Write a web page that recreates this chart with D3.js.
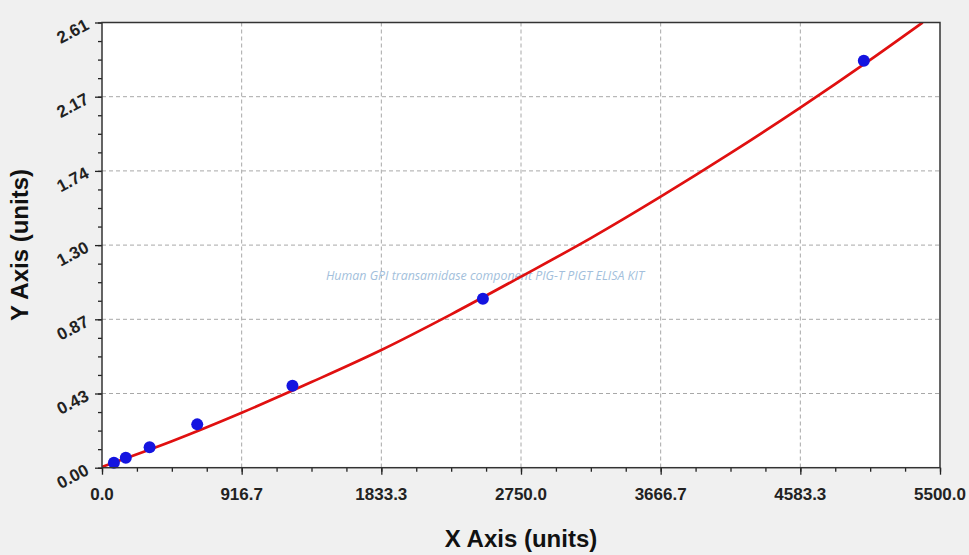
<!doctype html>
<html>
<head>
<script src="https://d3js.org/d3.v7.min.js"></script>
<style>
body { margin: 0; background: #f0f0f0; }
svg { display: block; font-family: Arial, "Liberation Sans", sans-serif; }
.grid line { stroke: #a8a8a8; stroke-dasharray: 4,3; stroke-width: 1; }
.tick-label { font-weight: bold; font-size: 17px; fill: #222; }
.axis-title { font-weight: bold; font-size: 24px; fill: #111; }
</style>
</head>
<body>
<svg width="969" height="555" id="chart"></svg>

<script type="text/javascript">
// standards (concentration / OD)
var conc = [78.125, 156.25, 312.5, 625, 1250, 2500, 5000];
var od = [0.029, 0.059, 0.12, 0.254, 0.48, 0.99, 2.386];

// fitted curve
var curveX = [0, 458.3, 916.7, 1375, 1833.3, 2291.7, 2750, 3208.3, 3666.7, 4125, 4583.3, 5041.7, 5386];
var curveY = [0.005, 0.155, 0.322, 0.502, 0.69, 0.899, 1.12, 1.346, 1.589, 1.844, 2.111, 2.391, 2.61];

var xTicks = [0, 916.7, 1833.3, 2750.0, 3666.7, 4583.3, 5500.0];
var yTicks = [0, 0.435, 0.87, 1.305, 1.74, 2.175, 2.61];
var yTickLabels = ["0.00", "0.43", "0.87", "1.30", "1.74", "2.17", "2.61"];

var title = "Human GPI transamidase component PIG-T PIGT ELISA KIT";

var svg = d3.select("#chart");
var pLeft = 102, pRight = 940, pTop = 22.5, pBottom = 467.7;

var x = d3.scaleLinear().domain([0, 5500]).range([pLeft, pRight]);
var y = d3.scaleLinear().domain([0, 2.61]).range([pBottom, pTop]);

// plot background
svg.append("rect")
  .attr("x", pLeft).attr("y", pTop)
  .attr("width", pRight - pLeft).attr("height", pBottom - pTop)
  .attr("fill", "#fff");

// grid
var grid = svg.append("g").attr("class", "grid");
grid.selectAll(".gx").data(xTicks.slice(1, -1)).enter().append("line")
  .attr("x1", function(d) { return x(d); }).attr("x2", function(d) { return x(d); })
  .attr("y1", pTop).attr("y2", pBottom);
grid.selectAll(".gy").data(yTicks.slice(1, -1)).enter().append("line")
  .attr("x1", pLeft).attr("x2", pRight)
  .attr("y1", function(d) { return y(d); }).attr("y2", function(d) { return y(d); });

// minor ticks
var xMinor = d3.range(0, 5500.1, 5500 / 24);
var yMinor = d3.range(0, 2.6101, 2.61 / 24);

var xAxis = svg.append("g").attr("transform", "translate(0," + pBottom + ")");
xAxis.append("g").call(d3.axisBottom(x).tickValues(xMinor).tickSize(4).tickFormat(""));
xAxis.append("g").call(d3.axisBottom(x).tickValues(xTicks).tickSize(7).tickFormat(""));
xAxis.selectAll("path").remove();
xAxis.selectAll("line").attr("stroke", "#222").attr("stroke-width", 1.3);

var yAxis = svg.append("g").attr("transform", "translate(" + pLeft + ",0)");
yAxis.append("g").call(d3.axisLeft(y).tickValues(yMinor).tickSize(4).tickFormat(""));
yAxis.append("g").call(d3.axisLeft(y).tickValues(yTicks).tickSize(7).tickFormat(""));
yAxis.selectAll("path").remove();
yAxis.selectAll("line").attr("stroke", "#222").attr("stroke-width", 1.3);

// x tick labels
svg.selectAll(".xl").data(xTicks).enter().append("text")
  .attr("class", "tick-label")
  .attr("x", function(d) { return x(d); })
  .attr("y", pBottom + 32)
  .attr("text-anchor", "middle")
  .text(function(d) { return d.toFixed(1); });

// y tick labels (rotated)
svg.selectAll(".yl").data(yTicks).enter().append("text")
  .attr("class", "tick-label")
  .attr("text-anchor", "end")
  .attr("transform", function(d) { return "translate(" + (pLeft - 12) + "," + (y(d) + 6) + ") rotate(-28)"; })
  .text(function(d, i) { return yTickLabels[i]; });

// watermark
svg.append("text")
  .attr("x", 485).attr("y", 280)
  .attr("text-anchor", "middle")
  .attr("font-size", 12.4)
  .attr("font-style", "italic")
  .attr("font-family", "'Open Sans', sans-serif")
  .attr("fill", "#a3bfdc")
  .text(title);

// curve
svg.append("clipPath").attr("id", "clip").append("rect")
  .attr("x", pLeft).attr("y", pTop).attr("width", pRight - pLeft).attr("height", pBottom - pTop);
var line = d3.line()
  .x(function(d, i) { return x(curveX[i]); })
  .y(function(d) { return y(d); })
  .curve(d3.curveMonotoneX);
svg.append("path")
  .datum(curveY)
  .attr("clip-path", "url(#clip)")
  .attr("fill", "none")
  .attr("stroke", "#e01010")
  .attr("stroke-width", 2.7)
  .attr("d", line);

// points
svg.selectAll(".pt").data(od).enter().append("circle")
  .attr("cx", function(d, i) { return x(conc[i]); })
  .attr("cy", function(d) { return y(d); })
  .attr("r", 6)
  .attr("fill", "#1414e0");

// frame
svg.append("rect")
  .attr("x", pLeft).attr("y", pTop)
  .attr("width", pRight - pLeft).attr("height", pBottom - pTop)
  .attr("fill", "none").attr("stroke", "#333").attr("stroke-width", 1.5);

// axis titles
svg.append("text").attr("class", "axis-title")
  .attr("x", 521).attr("y", 547)
  .attr("text-anchor", "middle")
  .text("X Axis (units)");
svg.append("text").attr("class", "axis-title")
  .attr("transform", "translate(28,245) rotate(-90)")
  .attr("text-anchor", "middle")
  .text("Y Axis (units)");
</script>
</body>
</html>
